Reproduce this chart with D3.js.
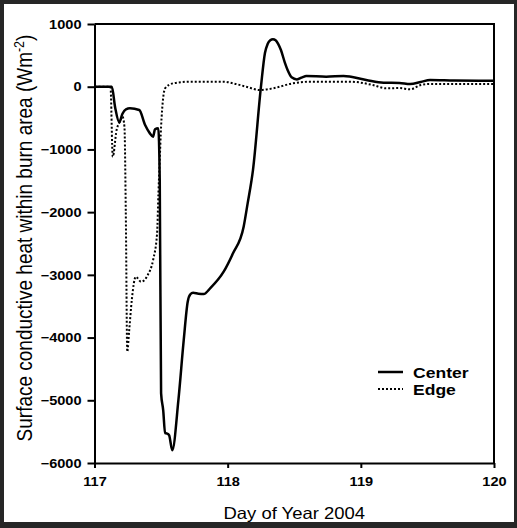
<!DOCTYPE html>
<html><head><meta charset="utf-8">
<script src="https://cdn.jsdelivr.net/npm/d3@7"></script>
<style>html,body{margin:0;padding:0;background:#fff;}svg{display:block;}</style>
</head><body>
<svg id="chart" width="517" height="528"></svg>
<script>
// ---- data ----
const centerDays = [117.00,117.13,117.155,117.186,117.21,117.236,117.266,117.336,117.38,117.416,117.44,117.454,117.479,117.49,117.50,117.516,117.53,117.545,117.56,117.584,117.63,117.67,117.70,117.72,117.74,117.78,117.82,117.87,117.97,118.04,118.12,118.15,118.19,118.25,118.28,118.30,118.32,118.34,118.36,118.38,118.40,118.43,118.45,118.48,118.52,118.56,118.59,118.74,118.87,119.04,119.17,119.29,119.37,119.45,119.52,119.7,120.00];
const centerValues = [0,0,-330,-568,-430,-360,-345,-372,-611,-744,-797,-680,-664,-1500,-4885,-5160,-5523,-5530,-5555,-5795,-4997,-4040,-3429,-3310,-3285,-3300,-3306,-3211,-2950,-2657,-2233,-1860,-1329,0,537,680,740,756,740,680,585,380,266,150,117,150,171,160,171,107,64,59,43,75,107,100,96];
const edgeDays = [117.00,117.12,117.137,117.166,117.19,117.21,117.225,117.235,117.246,117.26,117.28,117.31,117.35,117.40,117.44,117.47,117.48,117.49,117.50,117.53,117.59,117.72,117.97,118.04,118.14,118.24,118.34,118.49,118.62,118.92,119.09,119.19,119.29,119.37,119.45,119.52,120.00];
const edgeValues = [0,0,-1116,-690,-558,-478,-640,-2000,-4226,-3900,-3400,-3030,-3110,-3003,-2764,-2338,-1700,-1170,-638,-26,54,80,80,54,0,-53,-26,54,80,80,27,-26,-21,-42,27,43,43];
const xTicks = [117,118,119,120];
const yTicks = [1000,0,-1000,-2000,-3000,-4000,-5000,-6000];
const seriesNames = ["Center","Edge"];

// ---- layout ----
const svg = d3.select("#chart");
const W = 517, H = 528;
const L = 94.5, R = 494, T = 24, B = 463;
const font = "'Liberation Sans', Arial, sans-serif";
const SX = 1.12; // horizontal stretch of the original typography

svg.append("rect").attr("x",0).attr("y",0).attr("width",W).attr("height",H).attr("fill","#262626");
svg.append("rect").attr("x",4).attr("y",4).attr("width",510).attr("height",518).attr("fill","#fff");

const x = d3.scaleLinear().domain([117,120]).range([L,R]);
const y = d3.scaleLinear().domain([-6000,1000]).range([B,T]);

// box
svg.append("path").attr("d",`M${L},${T}H${R}V${B}`).attr("fill","none").attr("stroke","#000").attr("stroke-width",2);

const yAxis = svg.append("g").attr("transform",`translate(${L},0)`)
  .call(d3.axisLeft(y).tickValues(yTicks).tickSize(7).tickSizeOuter(0).tickPadding(5).tickFormat(d3.format("d")));
const xAxis = svg.append("g").attr("transform",`translate(0,${B})`)
  .call(d3.axisBottom(x).tickValues(xTicks).tickSize(5).tickSizeOuter(0).tickPadding(9).tickFormat(d3.format("d")));
[yAxis,xAxis].forEach(a=>{
  a.select(".domain").attr("stroke","#000").attr("stroke-width",2);
  a.selectAll(".tick line").attr("stroke","#000").attr("stroke-width",2);
  a.selectAll(".tick text").attr("fill","#000").style("font-family",font).style("font-size","13px").style("font-weight","bold");
});
yAxis.selectAll(".tick text").attr("x",-13/SX).attr("transform",`scale(${SX},1)`);
xAxis.selectAll(".tick text").attr("transform",`scale(${SX},1)`);

// lines
const line = d3.line().x(d=>x(d[0])).y(d=>y(d[1])).curve(d3.curveMonotoneX);
const centerData = centerDays.map((d,i)=>[d,centerValues[i]]);
const edgeData = edgeDays.map((d,i)=>[d,edgeValues[i]]);
svg.append("path").datum(edgeData).attr("d",line).attr("fill","none").attr("stroke","#000").attr("stroke-width",2).attr("stroke-dasharray","2,2");
svg.append("path").datum(centerData).attr("d",line).attr("fill","none").attr("stroke","#000").attr("stroke-width",2.5).attr("stroke-linejoin","round");

// axis titles
svg.append("text").attr("transform",`translate(${(L+R)/2},519) scale(${SX},1)`).attr("text-anchor","middle")
  .style("font-family",font).style("font-size","16.5px").text("Day of Year 2004");
const yt = svg.append("text").attr("transform",`translate(32,238) rotate(-90) scale(1,${SX})`).attr("text-anchor","middle")
  .style("font-family",font).style("font-size","19px");
yt.append("tspan").text("Surface conductive heat within burn area (Wm");
yt.append("tspan").attr("dy",-7).style("font-size","12.5px").text("-2");
yt.append("tspan").attr("dy",7).text(")");

// legend
const leg = svg.append("g");
seriesNames.forEach((n,i)=>{
  const ly = 372 + i*17;
  leg.append("line").attr("x1",378).attr("x2",403).attr("y1",ly).attr("y2",ly)
    .attr("stroke","#000").attr("stroke-width",i===0?2.5:2).attr("stroke-dasharray",i===0?null:"2,2");
  leg.append("text").attr("transform",`translate(413,${ly+5.5}) scale(1.17,1)`).style("font-family",font).style("font-size","15px").style("font-weight","bold").text(n);
});
</script>
</body></html>
